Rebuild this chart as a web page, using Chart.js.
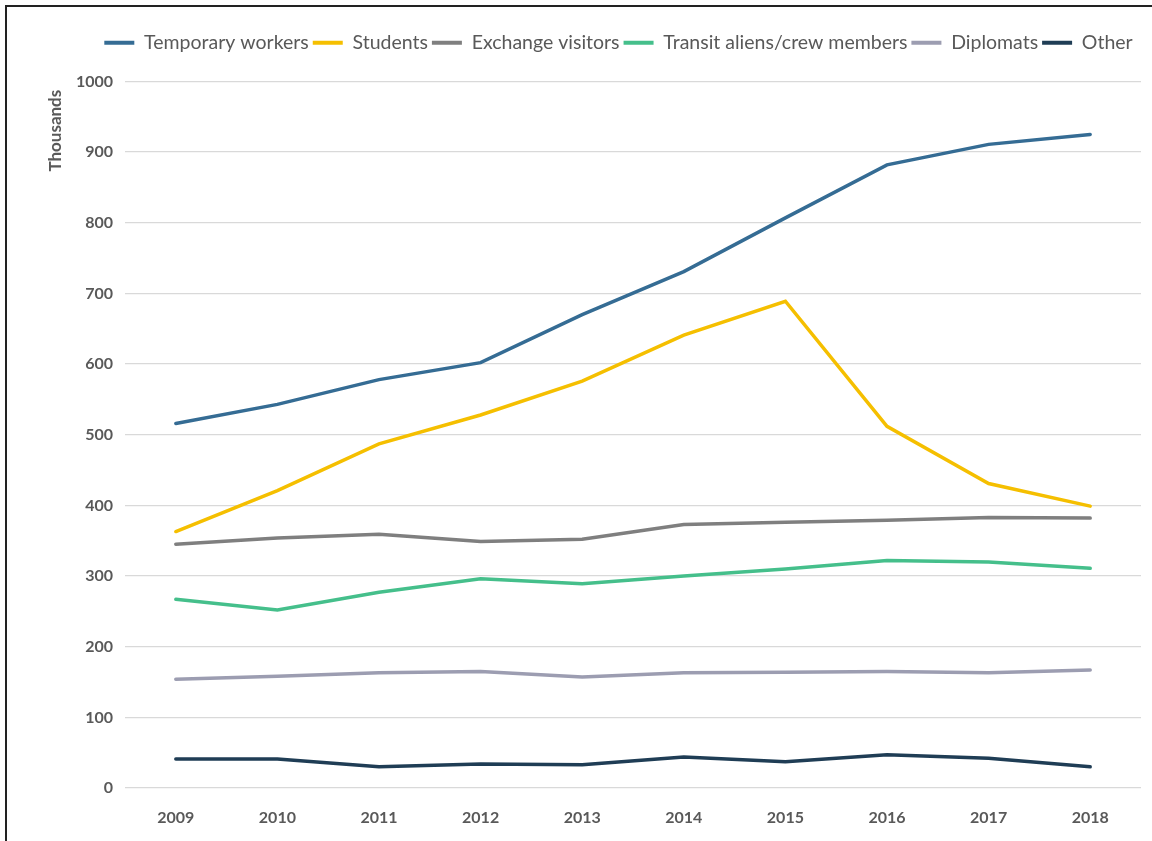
<!DOCTYPE html>
<html>
<head>
<meta charset="utf-8">
<script src="https://cdn.jsdelivr.net/npm/chart.js@4.4.1/dist/chart.umd.min.js"></script>
<style>
  html, body { margin: 0; padding: 0; background: #fff; overflow: hidden; }
  #frame { position: absolute; left: 5px; top: 5px; width: 1200px; height: 900px;
           border-left: 2px solid #222; border-top: 2px solid #222; }
  #wrap { position: absolute; left: 0; top: 0; width: 1152px; height: 841px; }
</style>
</head>
<body>
<div id="frame"></div>
<div id="wrap"><canvas id="chart"></canvas></div>
<script>
// years on the x axis
const years = ['2009', '2010', '2011', '2012', '2013', '2014', '2015', '2016', '2017', '2018'];

// thousands
const temporaryWorkers = [516, 543, 578, 602, 670, 731, 807, 882, 911, 925];
const students         = [363, 421, 487, 528, 576, 641, 689, 512, 431, 399];
const exchangeVisitors = [345, 354, 359, 349, 352, 373, 376, 379, 383, 382];
const transitCrew      = [267, 252, 277, 296, 289, 300, 310, 322, 320, 311];
const diplomats        = [154, 158, 163, 165, 157, 163, 164, 165, 163, 167];
const other            = [41, 41, 30, 34, 33, 44, 37, 47, 42, 30];

const seriesNames = ['Temporary workers', 'Students', 'Exchange visitors',
                     'Transit aliens/crew members', 'Diplomats', 'Other'];
const seriesData = [temporaryWorkers, students, exchangeVisitors, transitCrew, diplomats, other];
const seriesColors = ['#356C94', '#F5BF00', '#7F7F7F', '#45BF8B', '#9C9DB1', '#1F3D55'];

const yTicks = [0, 100, 200, 300, 400, 500, 600, 700, 800, 900, 1000];

const textGrey = '#595959';
const font = "Lato, 'Open Sans', sans-serif";

const datasets = seriesNames.map((name, i) => ({
    label: name,
    data: seriesData[i],
    borderColor: seriesColors[i],
    backgroundColor: seriesColors[i],
    borderWidth: 3.5,
    pointRadius: 0,
    tension: 0,
    borderCapStyle: 'round',
}));

// legend: extra room under it, and nudged right like the original
const legendTweak = {
    id: 'legendTweak',
    beforeInit(chart) {
        const fit = chart.legend.fit;
        chart.legend.fit = function () {
            fit.call(this);
            this.height += 19;
        };
    },
    afterLayout(chart) {
        chart.legend.left += 48;
        chart.legend.right += 48;
    },
};

new Chart(document.getElementById('chart'), {
    type: 'line',
    data: { labels: years, datasets: datasets },
    plugins: [legendTweak],
    options: {
        responsive: true,
        maintainAspectRatio: false,
        animation: false,
        layout: { padding: { top: 29, right: 11, bottom: 0, left: 0 } },
        plugins: {
            tooltip: { enabled: false },
            legend: {
                position: 'top',
                labels: {
                    boxWidth: 30,
                    boxHeight: 4,
                    padding: 4,
                    color: textGrey,
                    font: { family: font, size: 19.5 },
                    generateLabels: (chart) => {
                        const items = Chart.defaults.plugins.legend.labels.generateLabels(chart);
                        items.forEach(it => { it.lineWidth = 0; });
                        return items;
                    },
                },
            },
        },
        scales: {
            x: {
                offset: true,
                grid: { display: false },
                border: { display: false },
                ticks: { color: textGrey, font: { family: font, size: 16, weight: 'bold' }, padding: 12, maxRotation: 0 },
                afterFit: (s) => { s.height = 53; },
            },
            y: {
                min: 0,
                max: 1000,
                afterBuildTicks: (s) => { s.ticks = yTicks.map(v => ({ value: v })); },
                grid: { color: '#D9D9D9', lineWidth: 1.3, drawTicks: false },
                border: { display: false },
                ticks: {
                    color: textGrey,
                    font: { family: font, size: 16, weight: 'bold' },
                    padding: 12,
                    callback: (v) => String(v),
                },
                title: {
                    display: true,
                    text: 'Thousands  ',
                    align: 'end',
                    color: textGrey,
                    font: { family: font, size: 17, weight: 'bold' },
                    padding: { top: 45, bottom: 0 },
                },
                afterFit: (s) => { s.width = 125; },
            },
        },
    },
});
</script>
</body>
</html>
